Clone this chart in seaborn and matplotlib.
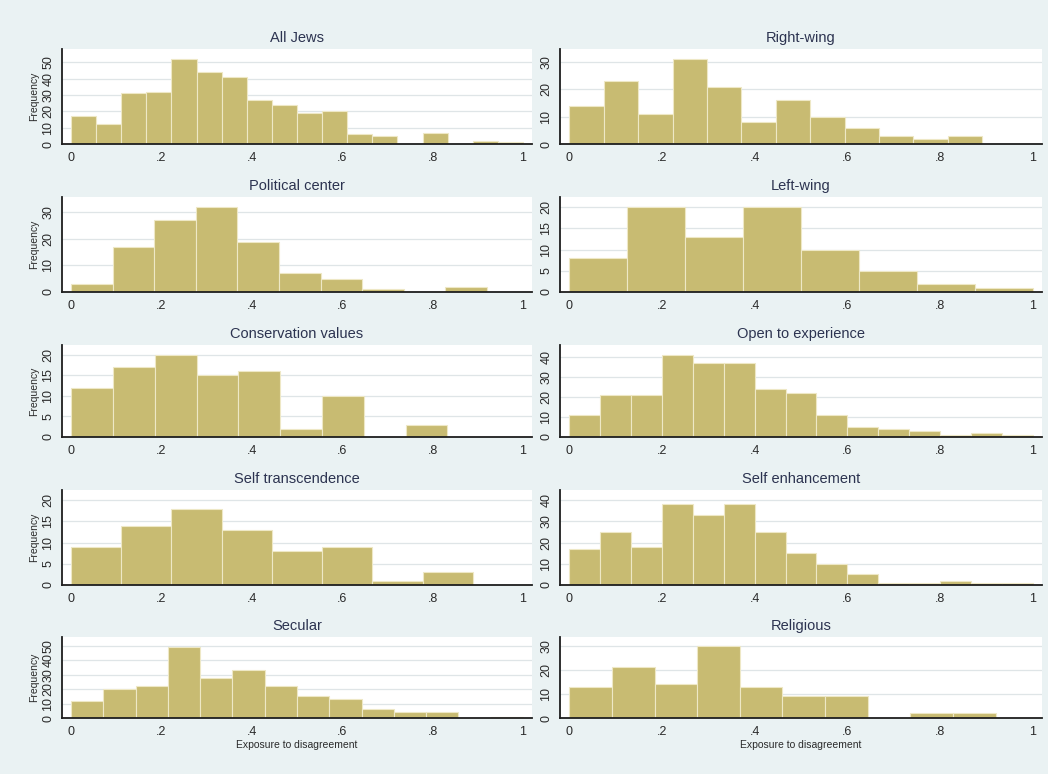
import numpy as np
import pandas as pd
import matplotlib
matplotlib.use("Agg")
import matplotlib.pyplot as plt
import seaborn as sns

# Panel titles, in reading order (left column, right column, row by row)
titles = [
    "All Jews", "Right-wing",
    "Political center", "Left-wing",
    "Conservation values", "Open to experience",
    "Self transcendence", "Self enhancement",
    "Secular", "Religious",
]

# Bin counts (frequency per bin) for each group
all_jews = [17, 12, 31, 32, 52, 44, 41, 27, 24, 19, 20, 6, 5, 0, 7, 0, 2, 1]
right_wing = [14, 23, 11, 31, 21, 8, 16, 10, 6, 3, 2, 3]
political_center = [3, 17, 27, 32, 19, 7, 5, 1, 0, 2]
left_wing = [8, 20, 13, 20, 10, 5, 2, 1]
conservation_values = [12, 17, 20, 15, 16, 2, 10, 0, 3]
open_to_experience = [11, 21, 21, 41, 37, 37, 24, 22, 11, 5, 4, 3, 1, 2, 1]
self_transcendence = [9, 14, 18, 13, 8, 9, 1, 3]
self_enhancement = [17, 25, 18, 38, 33, 38, 25, 15, 10, 5, 1, 1, 2, 1, 1]
secular = [12, 20, 22, 49, 28, 33, 22, 15, 13, 6, 4, 4, 0, 1]
religious = [13, 21, 14, 30, 13, 9, 9, 0, 2, 2]

counts = [
    all_jews, right_wing,
    political_center, left_wing,
    conservation_values, open_to_experience,
    self_transcendence, self_enhancement,
    secular, religious,
]

# Upper end of the binned range for each group (bins start at 0)
bin_max = [1.0, 0.891, 0.92, 1.0, 0.833, 1.0, 0.889, 1.0, 1.0, 0.92]

# Y-axis labels per panel
y_ticks = [
    [0, 10, 20, 30, 40, 50], [0, 10, 20, 30],
    [0, 10, 20, 30], [0, 5, 10, 15, 20],
    [0, 5, 10, 15, 20], [0, 10, 20, 30, 40],
    [0, 5, 10, 15, 20], [0, 10, 20, 30, 40],
    [0, 10, 20, 30, 40, 50], [0, 10, 20, 30],
]

x_ticks = [0, 0.2, 0.4, 0.6, 0.8, 1.0]
x_tick_labels = ["0", ".2", ".4", ".6", ".8", "1"]
x_title = "Exposure to disagreement"
y_title = "Frequency"

# Styling
BG = "#EAF2F3"
BAR = "#C8BB72"
BAR_EDGE = "#EEE8C6"
GRID = "#DFE5E7"
INK = "#1E1E1E"
TITLE_INK = "#2C3350"

sns.set_theme(style="white")
plt.rcParams["font.family"] = ["Liberation Sans", "DejaVu Sans"]

W, H = 1048, 774
fig = plt.figure(figsize=(W / 100, H / 100), dpi=100)
fig.patch.set_facecolor(BG)

# Panel frames in pixels
row_top = [49, 197, 345, 490, 637]
row_bot = [144, 292, 437, 585, 718]
col_left = [62, 560]
col_right = [532, 1042]

for i, (title, c) in enumerate(zip(titles, counts)):
    r, k = divmod(i, 2)
    x0, x1 = col_left[k], col_right[k]
    y0, y1 = row_top[r], row_bot[r]
    ax = fig.add_axes([x0 / W, 1 - y1 / H, (x1 - x0) / W, (y1 - y0) / H])
    ax.set_facecolor("white")

    n = len(c)
    edges = np.linspace(0, bin_max[i], n + 1)
    df = pd.DataFrame({"value": (edges[:-1] + edges[1:]) / 2,
                       "freq": np.asarray(c, dtype=float)})
    sns.histplot(
        data=df, x="value", weights="freq", bins=list(edges), stat="count",
        color=BAR, edgecolor=BAR_EDGE, linewidth=0.8, alpha=1.0, ax=ax,
    )

    ax.set_xlim(-0.02, 1.02)
    top = max(max(c), max(y_ticks[i])) * 1.12
    ax.set_ylim(0, top)

    ax.set_yticks(y_ticks[i])
    ax.set_yticklabels([str(v) for v in y_ticks[i]])
    ax.set_xticks(x_ticks)
    ax.set_xticklabels(x_tick_labels)

    ax.yaxis.grid(True, color=GRID, linewidth=0.9)
    ax.xaxis.grid(False)
    ax.set_axisbelow(True)

    for side in ("top", "right"):
        ax.spines[side].set_visible(False)
    for side in ("left", "bottom"):
        ax.spines[side].set_visible(True)
        ax.spines[side].set_color(INK)
        ax.spines[side].set_linewidth(1.3)

    ax.tick_params(axis="both", direction="out", length=4, width=1.1,
                   color=INK, labelsize=9, labelcolor="#2a2a2a", pad=2)
    ax.tick_params(axis="y", labelrotation=90, pad=1.5)
    for lab in ax.get_yticklabels():
        lab.set_va("center")

    ax.set_title(title, fontsize=10.5, color=TITLE_INK, pad=5)

    ax.set_xlabel(x_title if r == 4 else "", fontsize=7.5, color="#2a2a2a", labelpad=1)
    ax.set_ylabel(y_title if k == 0 else "", fontsize=7.5, color="#2a2a2a", labelpad=2)

fig.savefig("out.png", dpi=100, facecolor=BG)
